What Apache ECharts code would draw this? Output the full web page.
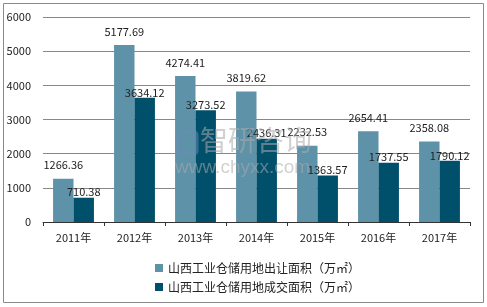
<!DOCTYPE html>
<html><head><meta charset="utf-8">
<script src="https://cdn.jsdelivr.net/npm/echarts@6/dist/echarts.min.js"></script>
<style>html,body{margin:0;padding:0;background:#fff}#c{width:487px;height:307px}</style>
</head><body><div id="c"></div>
<script>
var categories = ['2011年','2012年','2013年','2014年','2015年','2016年','2017年'];
var transferArea = [1266.36, 5177.69, 4274.41, 3819.62, 2232.53, 2654.41, 2358.08];
var dealArea = [710.38, 3634.12, 3273.52, 2436.31, 1363.57, 1737.55, 1790.12];
var seriesNames = ['山西工业仓储用地出让面积（万㎡）','山西工业仓储用地成交面积（万㎡）'];
var yTicks = {min: 0, max: 6000, interval: 1000};

var font = '"Microsoft YaHei","Noto Sans CJK SC",sans-serif';
var chart = echarts.init(document.getElementById('c'));
chart.setOption({
  animation: false,
  textStyle: {fontFamily: font},
  graphic: [
    {type: 'rect', shape: {x: 3.5, y: 3.5, width: 480, height: 299}, style: {fill: 'none', stroke: '#8a8a8a', lineWidth: 1}, silent: true, z: 0},
    {type: 'rect', zlevel: 1, shape: {x: 177, y: 132, width: 20, height: 22, r: 3}, style: {fill: 'none', stroke: 'rgba(110,140,180,0.5)', lineWidth: 3}, silent: true},
    {type: 'text', zlevel: 1, left: 200, top: 126, style: {text: '智研咨询', fontSize: 28, fill: 'rgba(170,170,170,0.55)', fontFamily: font}, silent: true},
    {type: 'text', zlevel: 1, left: 175, top: 158, style: {text: 'www.chyxx.com', fontSize: 19, fill: 'rgba(170,170,170,0.55)', fontFamily: 'Arial,sans-serif'}, silent: true}
  ],
  legend: {
    orient: 'vertical', left: 150, top: 257, itemWidth: 8, itemHeight: 8, itemGap: 7,
    icon: 'rect',
    textStyle: {fontSize: 12, color: '#222', fontFamily: font},
    data: seriesNames
  },
  grid: {left: 43, right: 17, top: 17, bottom: 85, containLabel: false},
  xAxis: {
    type: 'category', data: categories,
    axisLine: {lineStyle: {color: '#333'}},
    axisTick: {show: true, alignWithLabel: false, lineStyle: {color: '#333'}, length: 4},
    axisLabel: {color: '#222', fontSize: 11, margin: 10}
  },
  yAxis: {
    type: 'value', min: yTicks.min, max: yTicks.max, interval: yTicks.interval,
    axisLine: {show: false},
    axisTick: {show: false},
    splitLine: {lineStyle: {color: '#888'}},
    axisLabel: {color: '#222', fontSize: 11, margin: 12, formatter: function (v) { return String(v); }}
  },
  series: [
    {name: seriesNames[0], type: 'bar', data: transferArea, barGap: '0%', barCategoryGap: '33%',
     itemStyle: {color: '#5d92a8'},
     label: {show: true, position: 'top', distance: 8, color: '#222', fontSize: 11}},
    {name: seriesNames[1], type: 'bar', data: dealArea,
     itemStyle: {color: '#01506b'},
     label: {show: true, position: 'top', distance: 0, color: '#222', fontSize: 11}}
  ]
});
</script></body></html>
